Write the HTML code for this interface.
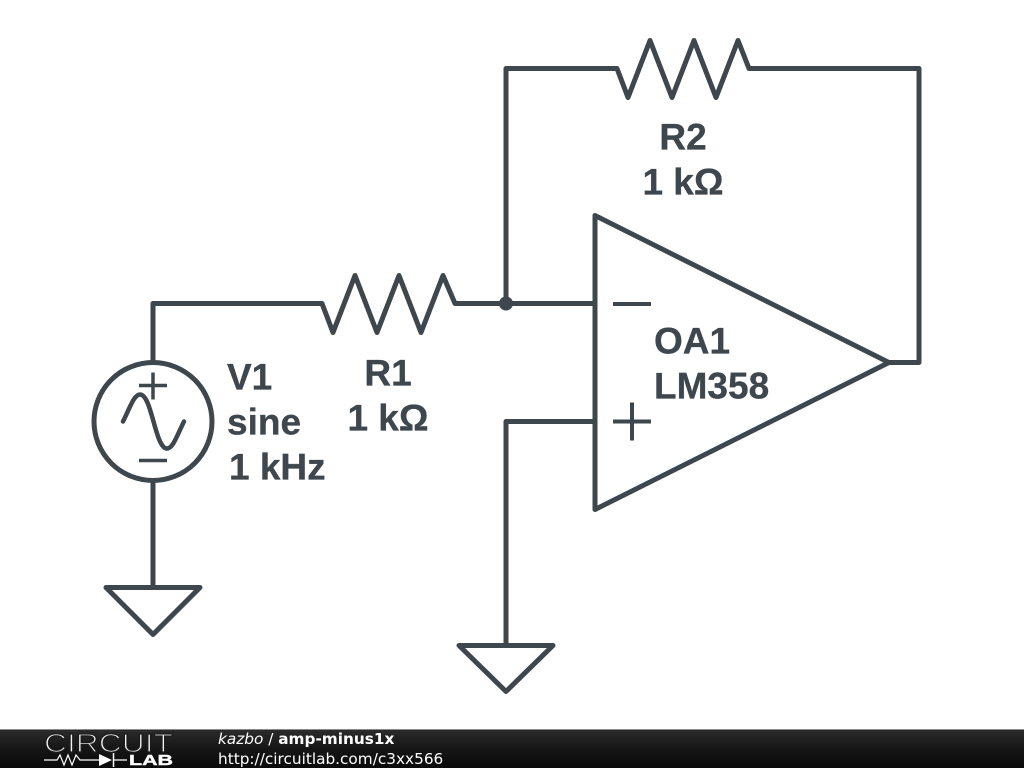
<!DOCTYPE html>
<html><head><meta charset="utf-8"><title>amp-minus1x</title>
<style>html,body{margin:0;padding:0;background:#fff;overflow:hidden}svg{display:block}</style></head>
<body>
<svg xmlns="http://www.w3.org/2000/svg" width="1024" height="768" viewBox="0 0 1024 768">
<defs><linearGradient id="g" x1="0" y1="0" x2="0" y2="1"><stop offset="0" stop-color="#2c2c2c"/><stop offset="0.5" stop-color="#161616"/><stop offset="1" stop-color="#0a0a0a"/></linearGradient></defs>
<rect width="1024" height="768" fill="#fff"/>
<g transform="translate(0 0.5)">
<g fill="none" stroke="#3d474d" stroke-width="5" stroke-linejoin="round" stroke-linecap="round">
<path d="M153 362V303H322L333 332L355 275L377 332L399 275L421 332L443 275L455 303H595"/>
<path d="M506 303V68H617L628 97L650 40L672 97L694 40L716 97L738 40L749 68H919V362H889"/>
<path d="M595 215V509L889 362Z"/>
<path d="M595 421H506V645"/>
<path d="M459 645H553L506 691Z"/>
<path d="M153 480V587"/>
<path d="M106 587H200L153 634Z"/>
<circle cx="153" cy="421" r="59"/>
<path d="M123 421C130 407 134 394 140 394C152 394 155 448 167 448C173 448 177 435 184 421" stroke-width="4.5"/>
<path d="M139 385H167M153 372V399M139 460H167" stroke-width="3.5" stroke-linecap="butt"/>
<path d="M613 303.500H651M613 421H651M632 402V440" stroke-width="4" stroke-linecap="butt"/>
</g>
<circle cx="506" cy="303" r="7" fill="#3d474d"/>
<g font-family="'Liberation Sans',sans-serif" font-weight="700" font-size="37" fill="#3d474d" stroke="#3d474d" stroke-width="0.3">
<text x="683" y="149" text-anchor="middle">R2</text>
<text x="683" y="194" text-anchor="middle">1 kΩ</text>
<text x="388" y="385" text-anchor="middle">R1</text>
<text x="388" y="430" text-anchor="middle">1 kΩ</text>
<text x="227" y="389">V1</text>
<text x="227" y="434">sine</text>
<text x="229" y="479">1 kHz</text>
<text x="654" y="353">OA1</text>
<text x="654" y="398">LM358</text>
</g>
</g>
<rect x="0" y="729" width="1024" height="39" fill="url(#g)"/>
<rect x="0" y="729" width="1024" height="1" fill="#8a8a8a"/>
<text x="44" y="752" font-family="'Liberation Sans',sans-serif" font-size="26" fill="#f4f4f4" stroke="#1c1c1c" stroke-width="1.300" textLength="129" lengthAdjust="spacingAndGlyphs">CIRCUIT</text>
<path d="M44 760H57L60 755L64 765L68 755L72 765L76 755L80 760H99M114 760H127" fill="none" stroke="#fff" stroke-width="1.200"/>
<path d="M99 754L112 760L99 766Z" fill="#fff"/>
<path d="M113.500 753V767" stroke="#fff" stroke-width="1.500"/>
<text x="129" y="765" font-family="'Liberation Sans',sans-serif" font-weight="700" font-size="15" fill="#fff" stroke="#fff" stroke-width="0.4" textLength="44" lengthAdjust="spacingAndGlyphs">LAB</text>
<g font-family="'DejaVu Sans',sans-serif" font-size="15.3" fill="#fff">
<text x="218" y="744"><tspan font-style="italic">kazbo</tspan> / <tspan font-weight="700">amp-minus1x</tspan></text>
<text x="218" y="764">http://circuitlab.com/c3xx566</text>
</g>
</svg>
</body></html>
